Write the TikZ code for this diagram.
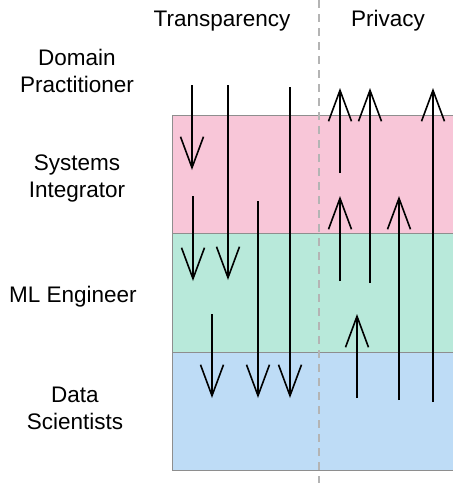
\documentclass[tikz,border=0pt]{standalone}
\usepackage{fontspec}
\setmainfont{Liberation Sans}
\usetikzlibrary{arrows.meta}
\definecolor{rolepink}{HTML}{F8C6D8}
\definecolor{rolegreen}{HTML}{B8E9DA}
\definecolor{roleblue}{HTML}{BEDCF6}
\definecolor{bandline}{HTML}{8E8E8E}
\definecolor{splitline}{HTML}{B4B4B4}

\begin{document}
\begin{tikzpicture}[x=1pt,y=-1pt,
  band/.style={draw=bandline,line width=1pt},
  flow/.style={line width=1.6pt,-{Straight Barb[length=31pt,width=23pt]}},
  role/.style={align=center,anchor=base,font=\fontsize{22.5}{26.5}\selectfont},
  head/.style={anchor=base,font=\fontsize{22.5}{26.5}\selectfont}]

\useasboundingbox (0,0) rectangle (453,483);

\draw [band,fill=rolepink]  (172,115) rectangle (460,233);
\draw [band,fill=rolegreen] (172,233) rectangle (460,352);
\draw [band,fill=roleblue]  (172,352) rectangle (460,470);
\draw [splitline,line width=1.2pt,dash pattern=on 8pt off 6pt] (319,0) -- (319,483);

\node [head] (transp) at (222,26) {Transparency};
\node [head] (priv) at (388,26) {Privacy};
\node [role] (domain) at (77,92) {Domain\\Practitioner};
\node [role] (integr) at (77,197) {Systems\\Integrator};
\node [role] (mleng) at (73,302) {ML Engineer};
\node [role] (datasci) at (75,429) {Data\\Scientists};

% transparency, downwards
\coordinate (t1a) at (192,85);  \coordinate (t1b) at (192,170);
\coordinate (t2a) at (193,196); \coordinate (t2b) at (193,281);
\coordinate (t3a) at (228,85);  \coordinate (t3b) at (228,280);
\coordinate (t4a) at (212,314); \coordinate (t4b) at (212,398);
\coordinate (t5a) at (258,201); \coordinate (t5b) at (258,398);
\coordinate (t6a) at (290,87);  \coordinate (t6b) at (290,398);
\draw [flow] (t1a) -- (t1b);
\draw [flow] (t2a) -- (t2b);
\draw [flow] (t3a) -- (t3b);
\draw [flow] (t4a) -- (t4b);
\draw [flow] (t5a) -- (t5b);
\draw [flow] (t6a) -- (t6b);

% privacy, upwards
\coordinate (p1a) at (340,173); \coordinate (p1b) at (340,88);
\coordinate (p2a) at (370,283); \coordinate (p2b) at (370,88);
\coordinate (p3a) at (340,281); \coordinate (p3b) at (340,196);
\coordinate (p4a) at (399,400); \coordinate (p4b) at (399,196);
\coordinate (p5a) at (357,398); \coordinate (p5b) at (357,314);
\coordinate (p6a) at (433,402); \coordinate (p6b) at (433,88);
\draw [flow] (p1a) -- (p1b);
\draw [flow] (p2a) -- (p2b);
\draw [flow] (p3a) -- (p3b);
\draw [flow] (p4a) -- (p4b);
\draw [flow] (p5a) -- (p5b);
\draw [flow] (p6a) -- (p6b);
\end{tikzpicture}
\end{document}
